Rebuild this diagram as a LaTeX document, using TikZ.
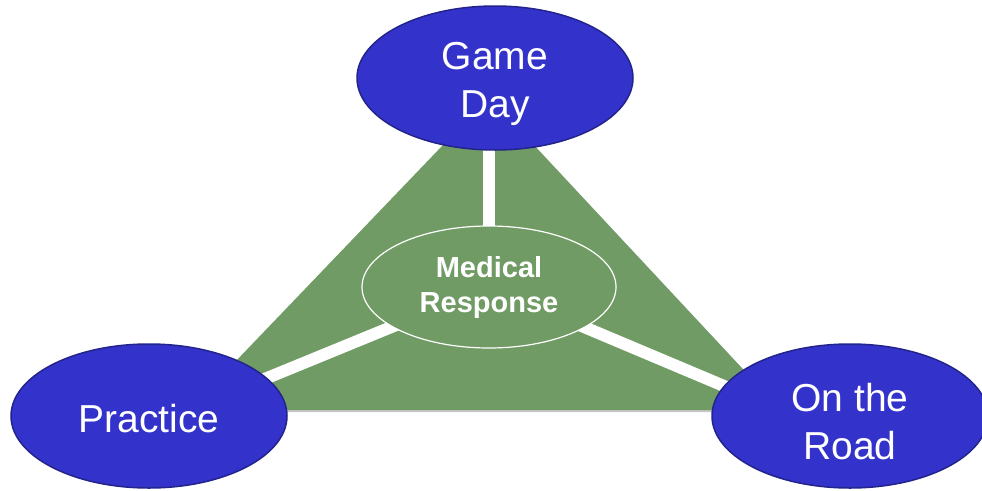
\documentclass[tikz,border=0pt]{standalone}
\usepackage{fontspec}
\setmainfont{Liberation Sans}
\usetikzlibrary{shapes.geometric, backgrounds}

\definecolor{evtblue}{RGB}{51,51,204}
\definecolor{evtedge}{RGB}{35,35,140}
\definecolor{fieldgreen}{RGB}{112,155,100}

\begin{document}
\begin{tikzpicture}[x=1pt, y=-1pt,
		e/.style = {ellipse, draw=evtedge, fill=evtblue, line width=1.5pt, text=white, minimum width=276, minimum height=144, inner sep=0pt, align=center, font=\fontsize{39}{48}\selectfont},
		m/.style = {ellipse, draw=white, fill=fieldgreen, line width=1.2pt, text=white, minimum width=254, minimum height=122, inner sep=0pt, align=center, font=\fontsize{29}{35}\selectfont\bfseries},
		f/.style = {fill=fieldgreen},
		sh/.style = {fill=black!22},
		w/.style = {draw=white, line width=12pt}
		]
		
		\useasboundingbox (0, 0) rectangle (982, 490);
		
		% === === Nodes === ===
		\node[e, text height=88pt]	(gd)	at	(495, 78)	{Game\\Day};
		\node[e, text height=34pt]	(pr)	at	(149, 416)	{Practice};
		\node[e, text height=87pt]	(rd)	at	(850, 416)	{On the\\Road};
		\node[m]					(mr)	at	(489, 287)	{Medical\\Response};
		
		% === === Field === ===
		\begin{pgfonlayer}{background}
		\coordinate	(t1)	at	(489, 97);
		\coordinate	(t2)	at	(189, 410);
		\coordinate	(t3)	at	(781, 410);
		
		\fill[sh]	([shift={(2,2)}]t1) -- ([shift={(2,2)}]t2) -- ([shift={(2,2)}]t3) -- cycle;
		\fill[f]	(t1) -- (t2) -- (t3) -- cycle;
		
		% === === Lines === ===
		\draw[w]	(mr.center)	--	(t1);
		\draw[w]	(mr.center)	--	(t2);
		\draw[w]	(mr.center)	--	(t3);
		\end{pgfonlayer}
		
	\end{tikzpicture}
\end{document}
